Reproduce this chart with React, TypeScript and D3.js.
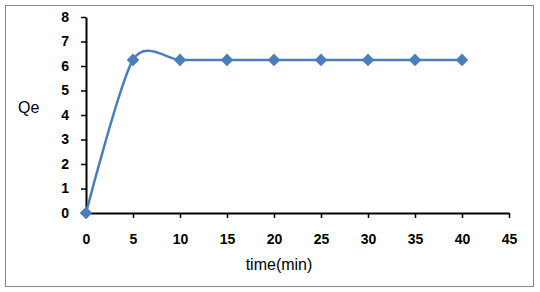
import React, { useEffect, useRef } from "react";
import * as d3 from "d3";

// adsorption vs time
const times = [0, 5, 10, 15, 20, 25, 30, 35, 40];
const qe = [0, 6.25, 6.25, 6.25, 6.25, 6.25, 6.25, 6.25, 6.25];
const xTicks = [0, 5, 10, 15, 20, 25, 30, 35, 40, 45];
const yTicks = [0, 1, 2, 3, 4, 5, 6, 7, 8];

export default function App() {
  const ref = useRef<SVGSVGElement>(null);

  useEffect(() => {
    const svg = d3.select(ref.current);
    svg.selectAll("*").remove();

    const left = 86, right = 509, top = 17, bottom = 213;
    const color = "#4a7ebb";

    // outer chart frame
    svg.append("rect")
      .attr("x", 5.5).attr("y", 5.5)
      .attr("width", 528).attr("height", 281)
      .attr("fill", "white")
      .attr("stroke", "#888").attr("stroke-width", 1);

    const x = d3.scaleLinear().domain([0, 45]).range([left, right]);
    const y = d3.scaleLinear().domain([0, 8]).range([bottom, top]);

    const font = "Arial, 'Liberation Sans', sans-serif";

    // y axis
    const yAxis = svg.append("g")
      .attr("transform", `translate(${left},0)`)
      .call(d3.axisLeft(y).tickValues(yTicks).tickSize(5).tickSizeOuter(0).tickPadding(12));
    // x axis
    const xAxis = svg.append("g")
      .attr("transform", `translate(0,${bottom})`)
      .call(d3.axisBottom(x).tickValues(xTicks).tickSize(5).tickSizeOuter(0).tickPadding(16));

    [yAxis, xAxis].forEach(a => {
      a.attr("font-size", null).attr("font-family", null);
      a.select(".domain").attr("stroke", "black").attr("stroke-width", 2);
      a.selectAll(".tick line").attr("stroke", "black").attr("stroke-width", 1.5);
      a.selectAll(".tick text")
        .attr("fill", "black")
        .style("font-family", font)
        .style("font-size", "14px")
        .style("font-weight", "bold");
    });

    // smoothed series like excel
    const line = d3.line<number>()
      .x((d, i) => x(times[i]))
      .y(d => y(d))
      .curve(d3.curveCardinal.tension(0.2));

    svg.append("path")
      .datum(qe)
      .attr("d", line)
      .attr("fill", "none")
      .attr("stroke", color)
      .attr("stroke-width", 2.5);

    const diamond = d3.symbol().type(d3.symbolDiamond2).size(100);
    svg.selectAll(".pt")
      .data(qe)
      .enter().append("path")
      .attr("class", "pt")
      .attr("d", diamond)
      .attr("transform", (d, i) => `translate(${x(times[i])},${y(d)})`)
      .attr("fill", color);

    svg.append("text")
      .attr("x", 18).attr("y", 113)
      .attr("font-family", font)
      .attr("font-size", 16)
      .text("Qe");

    svg.append("text")
      .attr("x", 279).attr("y", 270)
      .attr("text-anchor", "middle")
      .attr("font-family", font)
      .attr("font-size", 16)
      .text("time(min)");
  }, []);

  return (
    <svg ref={ref} width={540} height={292}
      style={{ position: "absolute", left: 0, top: 0 }} />
  );
}
